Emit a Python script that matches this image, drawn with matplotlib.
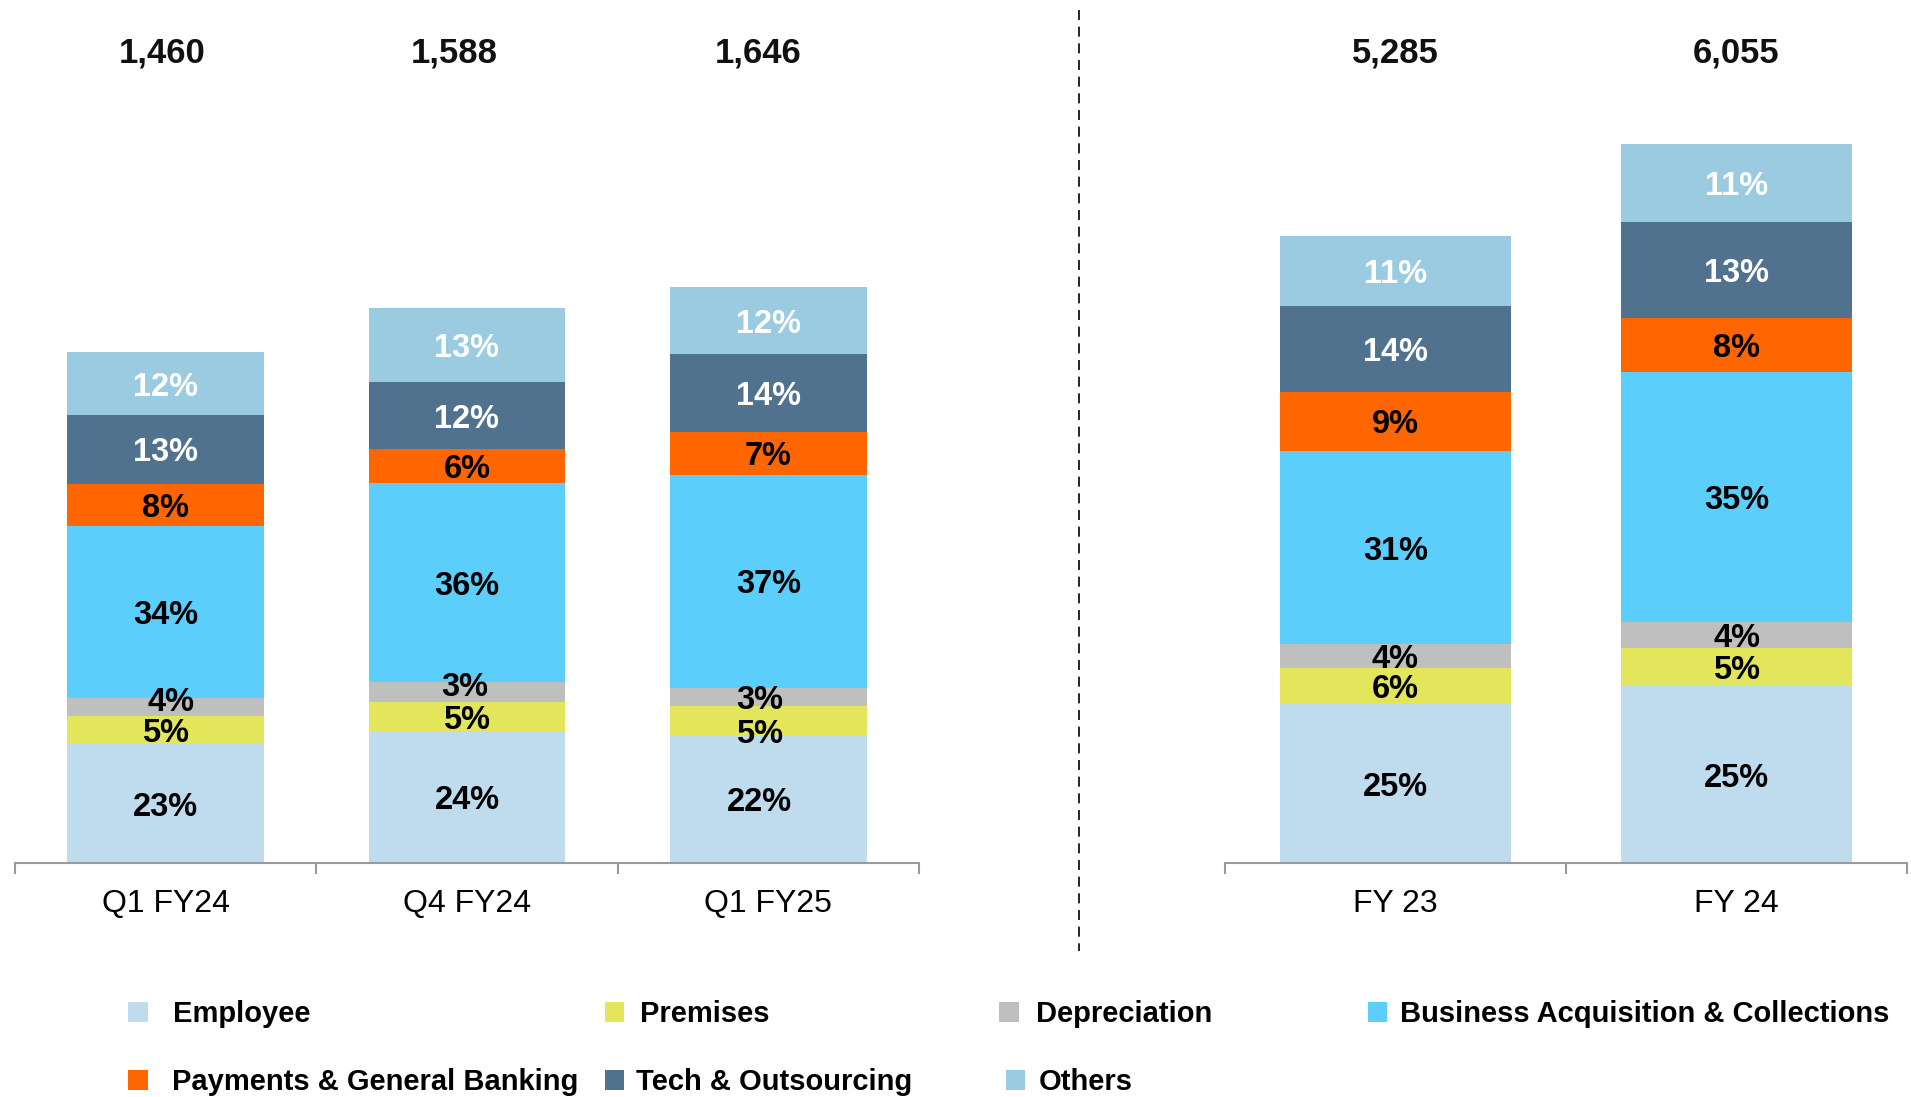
import matplotlib
matplotlib.use("Agg")
import matplotlib.pyplot as plt
from matplotlib.patches import Patch
from matplotlib.lines import Line2D
from matplotlib.transforms import blended_transform_factory
import numpy as np

plt.rcParams['font.family'] = ['Liberation Sans', 'DejaVu Sans']

# ---------------- data ----------------
categories = ["Employee", "Premises", "Depreciation", "Business Acquisition & Collections",
              "Payments & General Banking", "Tech & Outsourcing", "Others"]

left_periods = ["Q1 FY24", "Q4 FY24", "Q1 FY25"]
left_totals = [1460, 1588, 1646]
# shares (%)
left_share = {
    "Q1 FY24": [23.3, 5.4, 3.7, 33.6, 8.3, 13.4, 12.3],
    "Q4 FY24": [23.7, 5.3, 3.5, 35.8, 6.1, 12.2, 13.3],
    "Q1 FY25": [22.3, 5.0, 3.1, 37.0, 7.4, 13.5, 11.6],
}
# printed labels (%)
left_label = {
    "Q1 FY24": [23, 5, 4, 34, 8, 13, 12],
    "Q4 FY24": [24, 5, 3, 36, 6, 12, 13],
    "Q1 FY25": [22, 5, 3, 37, 7, 14, 12],
}

right_periods = ["FY 23", "FY 24"]
right_totals = [5285, 6055]
right_share = {
    "FY 23": [25.3, 5.8, 3.7, 30.8, 9.4, 13.7, 11.2],
    "FY 24": [24.6, 5.3, 3.6, 34.8, 7.5, 13.3, 10.9],
}
right_label = {
    "FY 23": [25, 6, 4, 31, 9, 14, 11],
    "FY 24": [25, 5, 4, 35, 8, 13, 11],
}

# ---------------- style ----------------
colors = ["#BFDBEE", "#E3E55A", "#BFBFBF", "#5BCEFC", "#FF6600", "#50728F", "#9BCBE0"]
label_colors = ["black", "black", "black", "black", "black", "white", "white"]
LABEL_DY = 3.5  # general downward shift of segment labels (px)
# label nudges in pixels (dx right, dy down)
nudges = {
    ("Q1 FY24", 2): (5.5, -8),
    ("Q4 FY24", 2): (-2.5, -8),
    ("Q1 FY25", 0): (-8.5, 0),
    ("Q1 FY25", 1): (-8.5, 10.5),
    ("Q1 FY25", 2): (-8.5, 0),
}
total_nudges = {"Q1 FY24": -4, "Q4 FY24": -13, "Q1 FY25": -10}

W, H = 1911, 1097
fig = plt.figure(figsize=(W / 100, H / 100), dpi=100)
PX2PT = 0.72

base_px = 863  # baseline y (from top)
axL = fig.add_axes([15 / W, (H - base_px) / H, 904 / W, base_px / H])
axR = fig.add_axes([1225 / W, (H - base_px) / H, 682 / W, base_px / H])

def draw_panel(ax, periods, totals, shares, labels, width, ymax):
    x = np.arange(len(periods))
    for i, p in enumerate(periods):
        vals = np.array(shares[p], dtype=float)
        heights = totals[i] * vals / vals.sum()
        bottom = 0.0
        for k, h in enumerate(heights):
            ax.bar(x[i], h, width=width, bottom=bottom, color=colors[k],
                   edgecolor='none', linewidth=0)
            dx, dy = nudges.get((p, k), (0, 0))
            dy += LABEL_DY
            ax.annotate(f"{labels[p][k]}%", xy=(x[i], bottom + h / 2),
                        xytext=(dx * PX2PT, -dy * PX2PT), textcoords='offset points',
                        ha='center', va='center', fontsize=23.5, fontweight='bold',
                        color=label_colors[k])
            bottom += h
    trans = blended_transform_factory(ax.transData, ax.transAxes)
    for i, t in enumerate(totals):
        ax.annotate(f"{t:,}", xy=(x[i], 1 - 52.5 / base_px), xycoords=trans,
                    xytext=(total_nudges.get(periods[i], 0) * PX2PT, 0),
                    textcoords='offset points', ha='center', va='center',
                    fontsize=25, fontweight='bold', color='#111111')
    ax.set_xlim(-0.5, len(periods) - 0.5)
    ax.set_ylim(0, ymax)
    for s in ['top', 'right', 'left']:
        ax.spines[s].set_visible(False)
    ax.spines['bottom'].set_color('#9A9A9A')
    ax.spines['bottom'].set_linewidth(1.5)
    ax.set_yticks([])
    ax.set_xticks(x)
    ax.set_xticklabels(periods, fontsize=23)
    ax.tick_params(axis='x', which='major', length=0, pad=18.5)
    ax.set_xticks(np.arange(-0.5, len(periods)), minor=True)
    ax.tick_params(axis='x', which='minor', length=8, width=1.5, color='#9A9A9A', direction='out')
    ax.patch.set_visible(False)

draw_panel(axL, left_periods, left_totals, left_share, left_label, 0.652, 2468)
draw_panel(axR, right_periods, right_totals, right_share, right_label, 0.676, 7269)

# dashed separator
fig.add_artist(Line2D([1079 / W, 1079 / W], [1 - 10 / H, 1 - 951 / H],
                      transform=fig.transFigure, color='black', lw=1.2,
                      linestyle=(0, (6, 4))))

# legend, one entry per item placed as in the reference
handles = [Patch(facecolor=c, edgecolor='none') for c in colors]
legend_layout = [  # (item index, marker x px, top y px, text pad)
    (0, 128, 1000, 0.88),
    (1, 604.5, 1000, 0.54),
    (2, 999.4, 1000, 0.59),
    (3, 1367.5, 1000, 0.46),
    (4, 128, 1068.4, 0.84),
    (5, 604.5, 1068.4, 0.42),
    (6, 1005.5, 1068.4, 0.46),
]
for idx, xpx, ypx, pad in legend_layout:
    fig.legend([handles[idx]], [categories[idx]],
               loc='upper left', bbox_to_anchor=(xpx / W, 1 - ypx / H),
               bbox_transform=fig.transFigure, frameon=False, borderpad=0,
               borderaxespad=0, handlelength=0.67, handleheight=0.67,
               handletextpad=pad, prop={'size': 21, 'weight': 'bold'})

fig.savefig("out.png", dpi=100)
